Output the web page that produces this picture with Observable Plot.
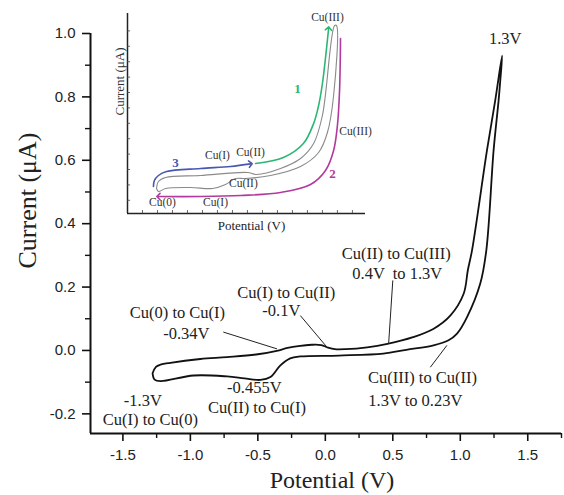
<!DOCTYPE html>
<html><head><meta charset="utf-8">
<script src="https://cdn.jsdelivr.net/npm/d3@7"></script>
<script src="https://cdn.jsdelivr.net/npm/@observablehq/plot@0.6"></script>
<style>
body{margin:0;background:#fff;}
#wrap{position:relative;width:564px;height:495px;background:#fff;}
#wrap svg{position:absolute;left:0;top:0;}
</style></head><body><div id="wrap"></div>
<script>
// ---- main cyclic voltammogram (potential V, current µA) ----
const cvPotential = [-1.28,-1.255,-1.222,-1.148,-0.926,-0.728,-0.5,-0.36,-0.28,-0.2,-0.1,-0.03,0.02,0.07,0.15,0.31,0.46,0.65,0.80,0.926,1.025,1.056,1.087,1.198,1.259,1.31,
  1.296,1.284,1.247,1.193,1.148,1.05,0.976,0.913,0.802,0.6,0.43,0.1,-0.185,-0.26,-0.333,-0.407,-0.481,-0.6,-0.728,-0.976,-1.222,-1.265,-1.28];
const cvCurrent = [-0.072,-0.052,-0.045,-0.039,-0.027,-0.021,-0.012,-0.001,0.008,0.014,0.018,0.017,0.009,0.004,0.004,0.010,0.021,0.042,0.068,0.11,0.179,0.253,0.316,0.632,0.789,0.93,
  0.85,0.789,0.632,0.316,0.211,0.105,0.053,0.032,0.016,0.002,-0.010,-0.016,-0.019,-0.025,-0.047,-0.084,-0.093,-0.088,-0.082,-0.079,-0.097,-0.092,-0.072];

const xDomain = [-1.74, 1.75];
const yDomain = [-0.262, 1.0];
const xTicks = [-1.5,-1.0,-0.5,0.0,0.5,1.0,1.5];
const xMinorTicks = [-1.25,-0.75,-0.25,0.25,0.75,1.25,1.75];
const yTicks = [-0.2,0.0,0.2,0.4,0.6,0.8,1.0];
const yMinorTicks = [-0.1,0.1,0.3,0.5,0.7,0.9];

const annText = ["1.3V","Cu(II) to Cu(III)","0.4V  to 1.3V","Cu(I) to Cu(II)","-0.1V","Cu(0) to Cu(I)","-0.34V","Cu(III) to Cu(II)","1.3V to 0.23V","-0.455V","Cu(II) to Cu(I)","-1.3V","Cu(I) to Cu(0)"];
const annX = [1.333,0.526,0.533,-0.289,-0.326,-1.096,-1.03,0.72,0.667,-0.526,-0.506,-1.352,-1.296];
const annY = [0.984,0.306,0.242,0.183,0.126,0.12,0.054,-0.086,-0.158,-0.119,-0.181,-0.158,-0.218];

const leaderX1 = [-0.756,-0.185,0.50,0.778];
const leaderY1 = [0.058,0.11,0.221,-0.053];
const leaderX2 = [-0.358,0.013,0.469,0.901];
const leaderY2 = [0.005,0.010,0.021,0.016];

// ---- inset (schematic, arbitrary units) ----
const insetGrayU = [1.22,1.30,1.60,3.07,5.04,5.42,6.43,7.27,7.82,8.19,8.70,8.78,8.66,8.40,8.03,7.27,6.01,4.96,4.54,4.12,3.57,2.65,1.60,1.30,1.22];
const insetGrayV = [1.25,1.60,1.80,1.90,2.05,1.95,2.25,2.75,3.5,4.9,9.4,9.4,5.9,4.05,3.05,2.35,1.9,1.75,1.75,1.45,1.25,1.3,1.25,1.1,1.25];
const insetBlueU = [1.09,1.13,1.30,1.64,3.07,4.33,5.17];
const insetBlueV = [1.35,1.65,1.90,2.10,2.25,2.35,2.48];
const insetGreenU = [5.38,6.55,7.39,7.82,8.03,8.19,8.45];
const insetGreenV = [2.5,2.8,3.5,4.5,5.4,6.5,9.25];
const insetMagentaU = [8.95,8.91,8.82,8.66,8.32,7.69,6.43,4.75,3.07,1.30];
const insetMagentaV = [8.75,6.15,4.4,3.15,2.15,1.45,1.05,0.9,0.85,0.85];
const insetLabelText = ["Cu(III)","Cu(III)","Cu(I)","Cu(II)","Cu(II)","Cu(0)","Cu(I)"];
const insetLabelU = [8.40,9.58,3.78,5.17,4.87,1.47,3.70];
const insetLabelV = [9.8,4.1,2.9,3.05,1.5,0.55,0.55];
const insetNumText = ["1","2","3"];
const insetNumU = [7.14,8.61,2.02];
const insetNumV = [6.25,2.0,2.55];
const insetNumColor = ["#2bb673","#b23a9e","#4a57b0"];
const insetXTicks = [0.63,1.26,1.89,2.52,3.15,3.78,4.41,5.04,5.67,6.3,6.93,7.56,8.19,8.82,9.45];
const insetYTicks = [0.66,1.43,2.2,2.97,3.74,4.51,5.28,6.05,6.82,7.59,8.36,9.13];

const serif = "'Liberation Serif', 'Times New Roman', serif";
const sans = "'Liberation Sans', Arial, sans-serif";
const fmt = d => d.toFixed(1);

const cv = cvPotential.map((x, i) => ({x, y: cvCurrent[i]}));
const ann = annText.map((t, i) => ({t, x: annX[i], y: annY[i]}));
const leaders = leaderX1.map((x1, i) => ({x1, y1: leaderY1[i], x2: leaderX2[i], y2: leaderY2[i]}));
const pts = (U, V) => U.map((u, i) => ({u, v: V[i]}));

const main = Plot.plot({
  width: 564, height: 495,
  marginLeft: 90, marginRight: 3, marginTop: 33, marginBottom: 62,
  x: {domain: xDomain, axis: null},
  y: {domain: yDomain, axis: null},
  style: {fontFamily: sans, background: "transparent", color: "#111"},
  marks: [
    Plot.ruleX([xDomain[0]], {strokeWidth: 2, stroke: "#111"}),
    Plot.ruleY([yDomain[0]], {strokeWidth: 2, stroke: "#111"}),
    Plot.axisY(yTicks, {tickSize: 8, tickPadding: 7, tickFormat: fmt, fontSize: 15, strokeWidth: 1.6, fill: "#222"}),
    Plot.axisY(yMinorTicks, {tickSize: 5, tickFormat: () => "", strokeWidth: 1.4}),
    Plot.axisX(xTicks, {tickSize: 8, tickPadding: 8, tickFormat: fmt, fontSize: 15, strokeWidth: 1.6, fill: "#222"}),
    Plot.axisX(xMinorTicks, {tickSize: 5, tickFormat: () => "", strokeWidth: 1.4}),
    Plot.line(cv, {x: "x", y: "y", stroke: "#111", strokeWidth: 1.8, curve: "catmull-rom"}),
    Plot.link(leaders, {x1: "x1", y1: "y1", x2: "x2", y2: "y2", stroke: "#222", strokeWidth: 1}),
    Plot.text(ann, {x: "x", y: "y", text: "t", fontFamily: serif, fontSize: 16.5, fill: "#222"}),
    Plot.text(["Potential (V)"], {text: d => d, frameAnchor: "bottom", lineAnchor: "middle", dx: 6, dy: 47, fontFamily: serif, fontSize: 24, fill: "#222"}),
    Plot.text(["Current (μA)"], {text: d => d, frameAnchor: "left", lineAnchor: "middle", rotate: -90, dx: -63, dy: 35, fontFamily: serif, fontSize: 26, fill: "#222"})
  ]
});

const inset = Plot.plot({
  width: 564, height: 495,
  marginLeft: 127, marginRight: 199, marginTop: 13, marginBottom: 282,
  x: {domain: [0, 10], axis: null},
  y: {domain: [0, 10], axis: null},
  style: {background: "transparent"},
  marks: [
    Plot.ruleX([0], {strokeWidth: 1.5, stroke: "#222"}),
    Plot.ruleY([0], {strokeWidth: 1.5, stroke: "#222"}),
    Plot.ruleX(insetXTicks, {y1: 0, y2: 0.15, stroke: "#444", strokeWidth: 0.8}),
    Plot.ruleY(insetYTicks, {x1: 0, x2: 0.13, stroke: "#444", strokeWidth: 0.8}),
    Plot.line(pts(insetGrayU, insetGrayV), {x: "u", y: "v", stroke: "#8a8a8a", strokeWidth: 1.1, curve: "catmull-rom"}),
    Plot.line(pts(insetBlueU, insetBlueV), {x: "u", y: "v", stroke: "#4a57b0", strokeWidth: 1.6, curve: "catmull-rom", markerEnd: "arrow"}),
    Plot.line(pts(insetGreenU, insetGreenV), {x: "u", y: "v", stroke: "#2bb673", strokeWidth: 1.6, curve: "catmull-rom", markerEnd: "arrow"}),
    Plot.line(pts(insetMagentaU, insetMagentaV), {x: "u", y: "v", stroke: "#b23a9e", strokeWidth: 1.6, curve: "catmull-rom", markerEnd: "arrow"}),
    Plot.text(insetLabelText.map((t, i) => ({t, u: insetLabelU[i], v: insetLabelV[i]})), {x: "u", y: "v", text: "t", fontFamily: serif, fontSize: 11.5, fill: "#333"}),
    Plot.text(insetNumText.map((t, i) => ({t, u: insetNumU[i], v: insetNumV[i], c: insetNumColor[i]})), {x: "u", y: "v", text: "t", fill: d => d.c, fontFamily: serif, fontSize: 13, fontWeight: "bold"}),
    Plot.text(["Potential (V)"], {text: d => d, frameAnchor: "bottom", lineAnchor: "middle", dx: 5, dy: 12, fontFamily: serif, fontSize: 13, fill: "#222"}),
    Plot.text(["Current (μA)"], {text: d => d, frameAnchor: "left", lineAnchor: "middle", rotate: -90, dx: -8, dy: 2, fontFamily: serif, fontSize: 13, fill: "#333"})
  ]
});

const wrap = document.getElementById("wrap");
wrap.appendChild(main);
wrap.appendChild(inset);
</script>
</body></html>
